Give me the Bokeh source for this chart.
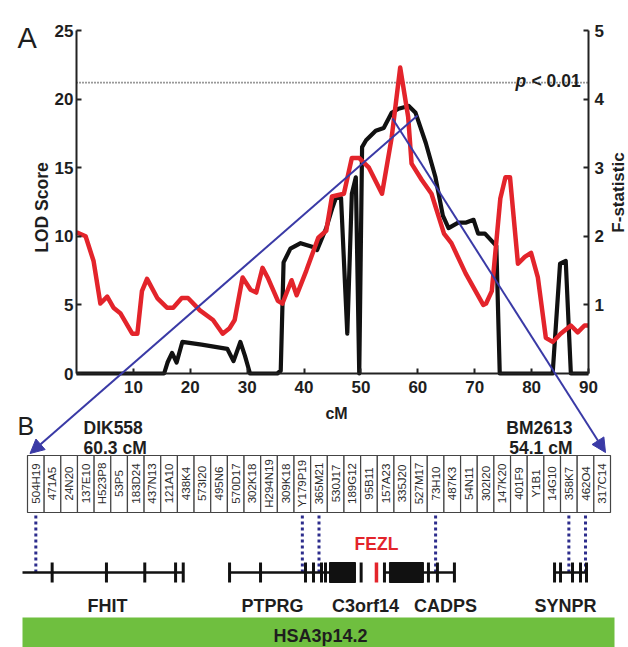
import math
from bokeh.plotting import figure
from bokeh.models import Range1d, LinearAxis, FixedTicker, Label, Arrow, NormalHead, ColumnDataSource
from bokeh.core.properties import value
from bokeh.embed import file_html
from bokeh.resources import INLINE

# ---------------- data ----------------
lod_cm = [0, 15.4, 16.0, 16.8, 17.6, 18.6, 22.0, 26.5, 27.6, 28.8, 29.6, 30.5, 35.3, 35.9, 36.4,
          37.6, 39.4, 41.7, 42.3, 43.9, 45.0, 45.6, 46.5, 47.6, 48.4, 49.1, 49.7, 50.2, 50.9,
          52.6, 54.0, 55.4, 56.6, 58.4, 59.6, 61.4, 63.1, 64.4, 65.4, 67.1, 68.5, 69.8, 70.6,
          71.8, 73.8, 74.4, 83.7, 85.0, 86.0, 86.9, 90]
lod_score = [0, 0, 0.8, 1.5, 0.8, 2.3, 2.1, 1.8, 0.9, 2.3, 1.3, 0, 0, 0.2, 8.1,
             9.1, 9.5, 9.2, 9.0, 10.6, 12.1, 12.8, 12.8, 2.9, 13.1, 14.3, 0, 16.5, 17.0,
             17.7, 17.9, 19.0, 19.3, 19.5, 19.0, 16.8, 14.3, 11.5, 10.6, 11.0, 11.0, 11.2, 10.2,
             10.2, 9.3, 0, 0, 8.0, 8.2, 0, 0]

f_cm = [0, 1.6, 3.0, 4.2, 5.4, 6.5, 7.7, 9.8, 10.7, 11.5, 12.4, 14.2, 15.9, 17.0, 18.5, 19.6,
        21.7, 24.0, 25.7, 26.9, 27.8, 29.2, 30.6, 31.6, 32.7, 33.6, 35.4, 36.2, 37.8, 38.7,
        40.4, 42.5, 43.9, 44.9, 47.0, 48.4, 49.7, 51.4, 53.7, 55.4, 56.9, 58.3, 58.9, 60.7,
        62.4, 64.6, 65.9, 68.4, 71.5, 72.0, 73.0, 74.5, 75.4, 76.2, 77.6, 78.8, 79.9, 81.1,
        82.5, 83.7, 85.1, 86.9, 88.1, 89.3, 90]
f_stat = [2.06, 2.0, 1.64, 1.02, 1.12, 0.96, 0.88, 0.58, 0.58, 1.2, 1.38, 1.1, 0.96, 0.96, 1.1, 1.1,
          0.92, 0.78, 0.58, 0.66, 0.78, 1.4, 1.22, 1.18, 1.54, 1.4, 1.06, 1.02, 1.36, 1.14,
          1.5, 1.98, 2.08, 2.58, 2.62, 3.14, 3.14, 3.0, 2.62, 3.44, 4.46, 3.74, 3.06, 2.82,
          2.62, 2.04, 1.9, 1.46, 1.0, 1.02, 1.2, 2.55, 2.86, 2.86, 1.6, 1.7, 1.76, 1.4,
          0.52, 0.46, 0.58, 0.7, 0.6, 0.7, 0.7]

p01_lod = 21.2
cm_ticks = [10, 20, 30, 40, 50, 60, 70, 80, 90]
lod_ticks = [0, 5, 10, 15, 20, 25]
f_ticks = [1, 2, 3, 4, 5]

clones = ["504H19", "471A5", "24N20", "137E10", "H523P8", "53P5", "183D24", "437N13", "121A10",
          "438K4", "573I20", "495N6", "570D17", "302K18", "H294N19", "309K18", "Y179P19", "365M21",
          "530J17", "189G12", "95B11", "157A23", "335J20", "527M17", "73H10", "487K3", "54N11",
          "302I20", "147K20", "401F9", "Y1B1", "14G10", "358K7", "462O4", "317C14"]
anchored_clones = [0, 16, 17, 24, 32, 33]

genes = ["FHIT", "PTPRG", "C3orf14", "CADPS", "SYNPR"]
gene_label_pos = [4.80, 14.71, 20.29, 25.09, 32.30]
track_start = [-0.30, 12.13, 21.43, 31.64]
track_end = [9.37, 19.69, 25.63, 33.56]
exon_ticks = [1.48, 4.74, 7.04, 8.89, 9.35, 12.13, 13.99, 16.69, 17.17, 17.65, 17.89, 20.03,
              21.43, 24.07, 24.61, 25.63, 31.64, 32.00, 32.72, 33.20, 33.56]
block_left = [18.13, 21.73]
block_right = [19.69, 23.77]
fezl_pos = 20.95
band = "HSA3p14.2"

# ---------------- layout ----------------
W, H = 628, 647
OX, OY = 0, 0
X0, X90 = 76, 588
Y0, Y25 = 373, 30
sx = (X90 - X0) / 90.0
sy = (Y0 - Y25) / 25.0
BOX_L, BOX_R = 27, 610
cw = (BOX_R - BOX_L) / len(clones)

def cm_at(px):
    return (px - X0) / sx

def lod_at(py):
    return (Y0 - py) / sy

FONT = value("Liberation Sans")
INK = "#1e1e1e"
RED = "#e3242b"
BLUE = "#3a3aa6"
NAVY = "#2c2c8c"

p = figure(width=W, height=H,
           x_range=Range1d(cm_at(OX), cm_at(OX + W)),
           y_range=Range1d(lod_at(OY + H), lod_at(OY)),
           x_axis_type=None, y_axis_type=None,
           output_backend="svg", toolbar_location=None, min_border=0)
p.outline_line_color = None
p.background_fill_color = "white"
p.border_fill_color = "white"
p.extra_y_ranges = {"F": Range1d(lod_at(OY + H) / 5.0, lod_at(OY) / 5.0),
                    "py": Range1d(OY + H, OY)}
p.extra_x_ranges = {"px": Range1d(OX, OX + W),
                    "clone": Range1d((OX - BOX_L) / cw, (OX + W - BOX_L) / cw)}

def style_axis(ax):
    ax.axis_line_width = 2
    ax.axis_line_color = "#222222"
    ax.major_tick_line_color = "#222222"
    ax.major_tick_line_width = 2
    ax.major_tick_in = 5
    ax.major_tick_out = 0
    ax.minor_tick_line_color = None
    ax.major_label_text_font = "Liberation Sans"
    ax.major_label_text_font_size = "17px"
    ax.major_label_text_font_style = "bold"
    ax.major_label_text_color = INK

ax_l = LinearAxis(fixed_location=0, bounds=(0, 25), ticker=FixedTicker(ticks=lod_ticks))
style_axis(ax_l)
ax_l.major_label_standoff = 3
p.add_layout(ax_l, "left")

ax_r = LinearAxis(y_range_name="F", fixed_location=90, bounds=(0, 5), ticker=FixedTicker(ticks=f_ticks))
style_axis(ax_r)
ax_r.major_label_standoff = 6
p.add_layout(ax_r, "right")

ax_b = LinearAxis(fixed_location=0, bounds=(0, 90), ticker=FixedTicker(ticks=cm_ticks))
style_axis(ax_b)
ax_b.major_label_standoff = 7
p.add_layout(ax_b, "below")

# threshold
p.line([0, 90], [p01_lod, p01_lod], line_color="#333333", line_width=1.6, line_dash="1 2")

# curves
p.line(lod_cm, lod_score, line_color="#111111", line_width=4.2, line_join="round")
p.line(f_cm, f_stat, y_range_name="F", line_color=RED, line_width=4.5, line_join="round")

# blue arrows (marker mapping)
p.add_layout(Arrow(x_start=cm_at(417), y_start=lod_at(115), x_end=cm_at(29.5), y_end=lod_at(453),
                   line_color=BLUE, line_width=2,
                   end=NormalHead(size=14, fill_color=BLUE, line_color=BLUE)))
p.add_layout(Arrow(x_start=cm_at(392), y_start=lod_at(118), x_end=cm_at(605), y_end=lod_at(452),
                   line_color=BLUE, line_width=2,
                   end=NormalHead(size=14, fill_color=BLUE, line_color=BLUE)))

# clone boxes
idx = list(range(len(clones)))
src = ColumnDataSource(dict(left=idx, right=[i + 1 for i in idx], mid=[i + 0.5 for i in idx], name=clones))
p.quad(left="left", right="right", top=455, bottom=512, source=src,
       x_range_name="clone", y_range_name="py",
       fill_color="white", line_color="#444444", line_width=1.2)
p.text(x="mid", y=483, text="name", source=src, x_range_name="clone", y_range_name="py",
       angle=math.pi / 2, text_align="center", text_baseline="middle",
       text_font=FONT, text_font_size=value("11.5px"), text_color="#2a2a2a")

# dotted anchors
TY = 572
anc = [i + 0.5 for i in anchored_clones]
p.segment(x0=anc, y0=[515] * len(anc), x1=anc, y1=[TY] * len(anc),
          x_range_name="clone", y_range_name="py",
          line_color=NAVY, line_width=3, line_dash="3 3")

# gene track
p.segment(x0=track_start, y0=[TY] * 4, x1=track_end, y1=[TY] * 4,
          x_range_name="clone", y_range_name="py", line_color="#111111", line_width=2.5)
p.segment(x0=exon_ticks, y0=[TY - 10] * len(exon_ticks), x1=exon_ticks, y1=[TY + 10] * len(exon_ticks),
          x_range_name="clone", y_range_name="py", line_color="#111111", line_width=3)
p.quad(left=block_left, right=block_right, top=[TY - 10] * 2, bottom=[TY + 10] * 2,
       x_range_name="clone", y_range_name="py", fill_color="#111111", line_color="#111111")
p.segment(x0=[fezl_pos], y0=[TY - 10], x1=[fezl_pos], y1=[TY + 10],
          x_range_name="clone", y_range_name="py", line_color=RED, line_width=3.5)

p.text(x=gene_label_pos, y=[605] * len(genes), text=genes, x_range_name="clone", y_range_name="py",
       text_align="center", text_baseline="middle", text_font=FONT,
       text_font_size=value("18px"), text_font_style="bold", text_color=INK)
p.text(x=[fezl_pos], y=[543], text=["FEZL"], x_range_name="clone", y_range_name="py",
       text_align="center", text_baseline="middle", text_font=FONT,
       text_font_size=value("17.5px"), text_font_style="bold", text_color=RED)

# band
p.quad(left=[22], right=[614], top=[617], bottom=[647], x_range_name="px", y_range_name="py",
       fill_color="#6fbf3f", line_color=None)

def lab(x, y, t, size="17px", style="bold", align="left", base="alphabetic", angle=0, color=INK):
    p.add_layout(Label(x=x, y=y, text=t, x_range_name="px", y_range_name="py",
                       text_font="Liberation Sans", text_font_size=size, text_font_style=style,
                       text_align=align, text_baseline=base, angle=angle, text_color=color))

lab(320, 635, band, size="18px", align="center", base="middle")
lab(17, 37, "A", size="29px", style="normal")
lab(17, 425, "B", size="25px", style="normal")
lab(83, 427, "DIK558", size="17.5px")
lab(83, 447, "60.3 cM", size="17.5px")
lab(572, 427, "BM2613", size="17.5px", align="right")
lab(572, 447, "54.1 cM", size="17.5px", align="right")
lab(336, 413, "cM", size="16px", align="center")
lab(41, 207, "LOD Score", size="17.5px", align="center", base="middle", angle=math.pi / 2)
lab(618, 192, "F-statistic", size="17px", align="center", base="middle", angle=math.pi / 2)
lab(515, 80, "p", size="17.5px", style="bold italic")
lab(531, 80, "< 0.01", size="17.5px")

open("out.html", "w").write(file_html(p, INLINE))
